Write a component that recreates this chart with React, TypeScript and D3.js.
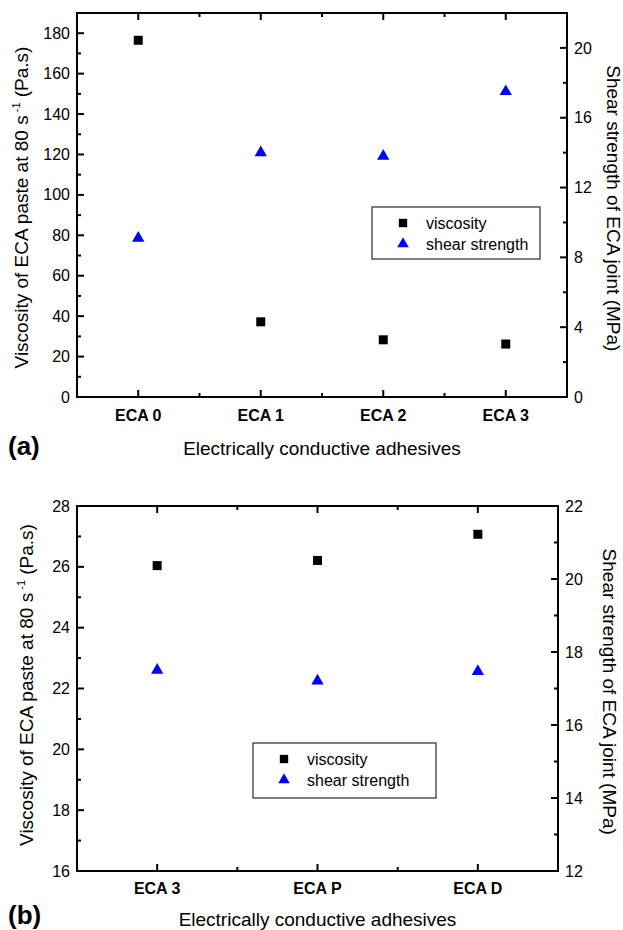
import React from "react";
import * as d3 from "d3";

// ---------- data ----------
const catsA = ["ECA 0", "ECA 1", "ECA 2", "ECA 3"];
const viscA = [176.5, 37.2, 28.3, 26.2];
const shearA = [9.1, 14.0, 13.8, 17.5];
const leftTicksA = [0, 20, 40, 60, 80, 100, 120, 140, 160, 180];
const rightTicksA = [0, 4, 8, 12, 16, 20];

const catsB = ["ECA 3", "ECA P", "ECA D"];
const viscB = [26.04, 26.21, 27.07];
const shearB = [17.5, 17.21, 17.47];
const leftTicksB = [16, 18, 20, 22, 24, 26, 28];
const rightTicksB = [12, 14, 16, 18, 20, 22];

const legendLabels = ["viscosity", "shear strength"];
const xTitle = "Electrically conductive adhesives";
const rightTitle = "Shear strength of ECA joint (MPa)";

const FONT = "'Liberation Sans', Arial, Helvetica, sans-serif";
const BLUE = "#0000ff";

type PanelProps = {
  cats: string[];
  visc: number[];
  shear: number[];
  leftTicks: number[];
  rightTicks: number[];
  leftDomain: [number, number];
  rightDomain: [number, number];
  leftMinor: number;
  rightMinor: number;
  box: { l: number; r: number; t: number; b: number };
  legend: { x: number; y: number; w: number; h: number };
  label: string;
  leftTitleX: number;
  leftTitleY: number;
  rightTitleX: number;
  rightTitleY: number;
  xLabelDy: number;
  xTitleY: number;
  panelLabelY: number;
};

function Panel(p: PanelProps) {
  const { box } = p;
  const x = d3.scalePoint<string>().domain(p.cats).range([box.l, box.r]).padding(0.5);
  const yL = d3.scaleLinear().domain(p.leftDomain).range([box.b, box.t]);
  const yR = d3.scaleLinear().domain(p.rightDomain).range([box.b, box.t]);
  const step = x.step();
  const minorX = p.cats.slice(1).map((c) => (x(c) as number) - step / 2);
  const leftMinorVals = d3.range(p.leftDomain[0], p.leftDomain[1] + 1e-9, p.leftMinor).filter((v) => !p.leftTicks.includes(+v.toFixed(6)));
  const rightMinorVals = d3.range(p.rightDomain[0], p.rightDomain[1] + 1e-9, p.rightMinor).filter((v) => !p.rightTicks.includes(+v.toFixed(6)));
  const MAJ = 7;
  const MIN = 4;
  const sq = d3.symbol().type(d3.symbolSquare).size(81)() as string;
  const tri = d3.symbol().type(d3.symbolTriangle).size(66)() as string;
  const sqL = d3.symbol().type(d3.symbolSquare).size(70)() as string;
  const triL = d3.symbol().type(d3.symbolTriangle).size(58)() as string;
  const cx = (box.l + box.r) / 2;
  return (
    <g>
      {/* frame */}
      <rect x={box.l} y={box.t} width={box.r - box.l} height={box.b - box.t} fill="none" stroke="#000" strokeWidth={2} />
      {/* x ticks */}
      {p.cats.map((c) => (
        <g key={c}>
          <line x1={x(c)} x2={x(c)} y1={box.b} y2={box.b - MAJ} stroke="#000" strokeWidth={2} />
          <line x1={x(c)} x2={x(c)} y1={box.t} y2={box.t + MAJ} stroke="#000" strokeWidth={2} />
          <text x={x(c)} y={box.b + p.xLabelDy} textAnchor="middle" fontFamily={FONT} fontWeight="bold" fontSize={16}>
            {c}
          </text>
        </g>
      ))}
      {minorX.map((mx, i) => (
        <g key={"mx" + i}>
          <line x1={mx} x2={mx} y1={box.b} y2={box.b - MIN} stroke="#000" strokeWidth={2} />
          <line x1={mx} x2={mx} y1={box.t} y2={box.t + MIN} stroke="#000" strokeWidth={2} />
        </g>
      ))}
      {/* left ticks */}
      {p.leftTicks.map((v) => (
        <g key={"l" + v}>
          <line x1={box.l} x2={box.l + MAJ} y1={yL(v)} y2={yL(v)} stroke="#000" strokeWidth={2} />
          <text x={box.l - 7} y={yL(v)} dy="0.35em" textAnchor="end" fontFamily={FONT} fontSize={16}>
            {v}
          </text>
        </g>
      ))}
      {leftMinorVals.map((v) => (
        <line key={"lm" + v} x1={box.l} x2={box.l + MIN} y1={yL(v)} y2={yL(v)} stroke="#000" strokeWidth={2} />
      ))}
      {/* right ticks */}
      {p.rightTicks.map((v) => (
        <g key={"r" + v}>
          <line x1={box.r} x2={box.r - MAJ} y1={yR(v)} y2={yR(v)} stroke="#000" strokeWidth={2} />
          <text x={box.r + 7} y={yR(v)} dy="0.35em" textAnchor="start" fontFamily={FONT} fontSize={16}>
            {v}
          </text>
        </g>
      ))}
      {rightMinorVals.map((v) => (
        <line key={"rm" + v} x1={box.r} x2={box.r - MIN} y1={yR(v)} y2={yR(v)} stroke="#000" strokeWidth={2} />
      ))}
      {/* data */}
      {p.cats.map((c, i) => (
        <path key={"s" + c} d={sq} transform={`translate(${x(c)},${yL(p.visc[i])})`} fill="#000" />
      ))}
      {p.cats.map((c, i) => (
        <path key={"t" + c} d={tri} transform={`translate(${x(c)},${yR(p.shear[i])})`} fill={BLUE} />
      ))}
      {/* legend */}
      <rect x={p.legend.x} y={p.legend.y} width={p.legend.w} height={p.legend.h} fill="#fff" stroke="#000" strokeWidth={1} />
      <path d={sqL} transform={`translate(${p.legend.x + 31},${p.legend.y + 16})`} fill="#000" />
      <path d={triL} transform={`translate(${p.legend.x + 31},${p.legend.y + 37})`} fill={BLUE} />
      {legendLabels.map((l, i) => (
        <text key={l} x={p.legend.x + 54} y={p.legend.y + 16 + i * 21} dy="0.35em" fontFamily={FONT} fontSize={16}>
          {l}
        </text>
      ))}
      {/* titles */}
      <text x={cx} y={p.xTitleY} textAnchor="middle" fontFamily={FONT} fontSize={19}>
        {xTitle}
      </text>
      <text x={8} y={p.panelLabelY} fontFamily={FONT} fontWeight="bold" fontSize={26}>
        {p.label}
      </text>
      <text transform={`translate(${p.leftTitleX},${p.leftTitleY}) rotate(-90)`} textAnchor="middle" fontFamily={FONT} fontSize={19}>
        <tspan>Viscosity of ECA paste at 80 s</tspan>
        <tspan fontSize={11} dy={-8}> -1</tspan>
        <tspan dy={8}> (Pa.s)</tspan>
      </text>
      <text transform={`translate(${p.rightTitleX},${p.rightTitleY}) rotate(90)`} textAnchor="middle" fontFamily={FONT} fontSize={19}>
        {rightTitle}
      </text>
    </g>
  );
}

export default function App() {
  return (
    <svg width={623} height={930} style={{ position: "absolute", left: 0, top: 0, background: "#fff" }}>
      <rect width={623} height={930} fill="#fff" />
      <Panel
        cats={catsA}
        visc={viscA}
        shear={shearA}
        leftTicks={leftTicksA}
        rightTicks={rightTicksA}
        leftDomain={[0, 190]}
        rightDomain={[0, 22]}
        leftMinor={10}
        rightMinor={2}
        box={{ l: 77, r: 567, t: 13, b: 397 }}
        legend={{ x: 372, y: 207, w: 168, h: 52 }}
        label="(a)"
        leftTitleX={27.5}
        leftTitleY={207.5}
        rightTitleX={607}
        rightTitleY={208.3}
        xLabelDy={23.5}
        xTitleY={455}
        panelLabelY={455}
      />
      <Panel
        cats={catsB}
        visc={viscB}
        shear={shearB}
        leftTicks={leftTicksB}
        rightTicks={rightTicksB}
        leftDomain={[16, 28]}
        rightDomain={[12, 22]}
        leftMinor={1}
        rightMinor={1}
        box={{ l: 77, r: 558, t: 506, b: 871 }}
        legend={{ x: 253, y: 743, w: 183, h: 55 }}
        label="(b)"
        leftTitleX={33}
        leftTitleY={685}
        rightTitleX={603}
        rightTitleY={691.7}
        xLabelDy={22.5}
        xTitleY={926}
        panelLabelY={924}
      />
    </svg>
  );
}
